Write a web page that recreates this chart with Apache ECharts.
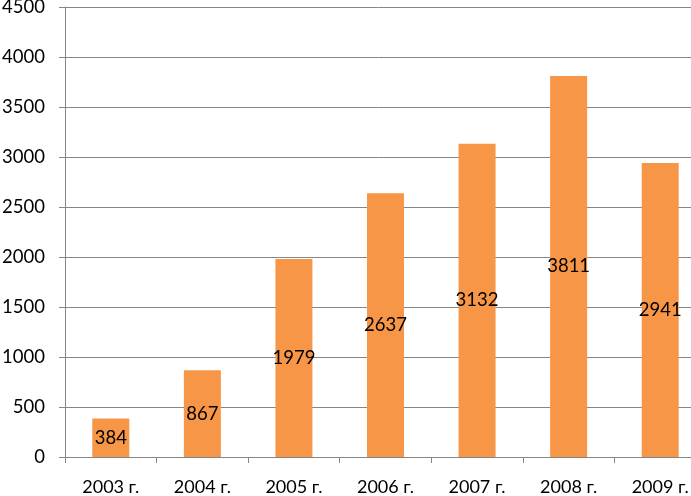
<!DOCTYPE html>
<html><head><meta charset="utf-8">
<script src="https://cdn.jsdelivr.net/npm/echarts@6/dist/echarts.min.js"></script>
<style>html,body{margin:0;padding:0;background:#fff}#c{width:691px;height:496px}</style>
</head><body><div id="c"></div>
<script>
const categories = ['2003 г.','2004 г.','2005 г.','2006 г.','2007 г.','2008 г.','2009 г.'];
const values = [384, 867, 1979, 2637, 3132, 3811, 2941];
const yTicks = [0,500,1000,1500,2000,2500,3000,3500,4000,4500];
const chart = echarts.init(document.getElementById('c'));
const font = 'Lato, "Open Sans", sans-serif';
chart.setOption({
  animation: false,
  grid: {left: 65, top: 7, width: 641, height: 450, containLabel: false, outerBoundsMode: 'none'},
  xAxis: {
    type: 'category', data: categories,
    axisLine: {lineStyle: {color: '#868686', width: 1}},
    axisTick: {show: true, length: 6, alignWithLabel: false, lineStyle: {color: '#868686'}},
    axisLabel: {color: '#000', fontSize: 18, fontFamily: font, margin: 21}
  },
  yAxis: {
    type: 'value', min: yTicks[0], max: yTicks[yTicks.length-1], interval: 500,
    axisLine: {show: true, lineStyle: {color: '#868686', width: 1}},
    axisTick: {show: true, length: 6, lineStyle: {color: '#868686'}},
    splitLine: {lineStyle: {color: '#868686', width: 1}},
    axisLabel: {color: '#000', fontSize: 18.5, fontFamily: font, margin: 20, formatter: v => String(v)}
  },
  series: [{
    type: 'bar', data: values, barWidth: 37,
    itemStyle: {color: '#F79646'},
    label: {show: true, position: 'inside', color: '#000', fontSize: 18.5, fontFamily: font}
  }]
});
</script></body></html>
